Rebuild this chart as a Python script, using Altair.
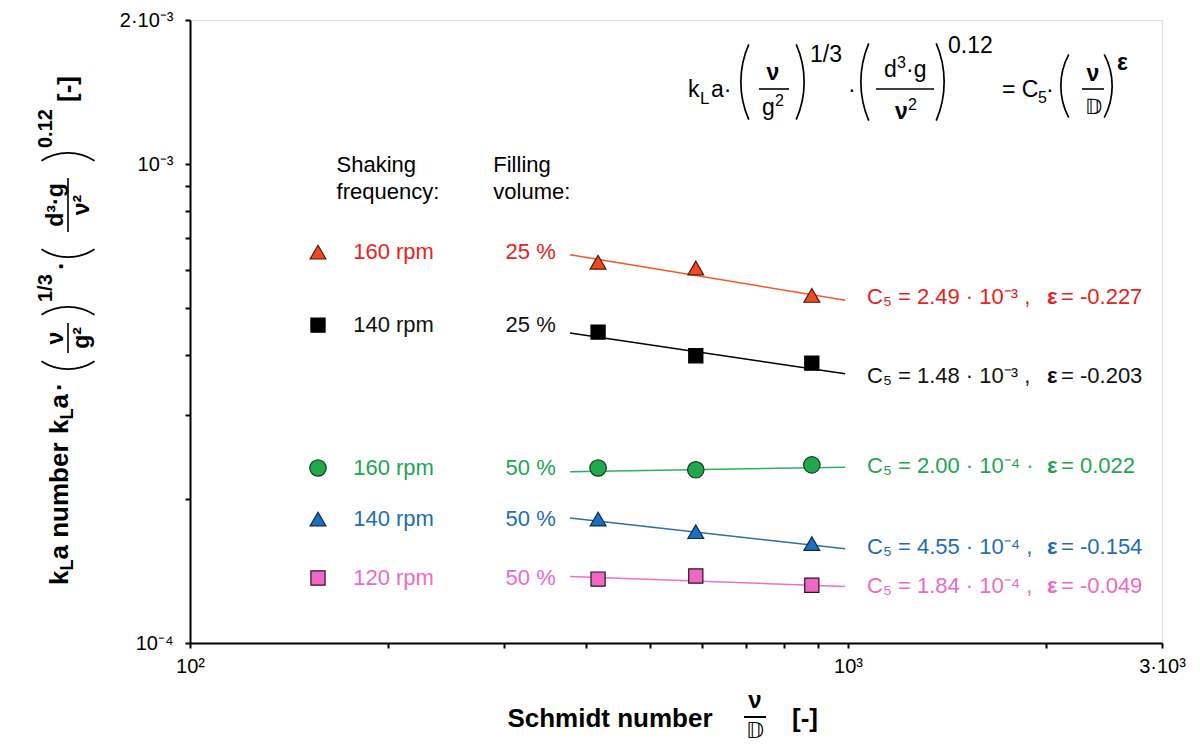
import math
import altair as alt
import pandas as pd

# ------------------------------------------------------------------ data
SERIES = ["160 rpm / 25 %", "140 rpm / 25 %", "160 rpm / 50 %", "140 rpm / 50 %", "120 rpm / 50 %"]
FREQ_LABELS = ["160 rpm", "140 rpm", "160 rpm", "140 rpm", "120 rpm"]
FILL_LABELS = ["25 %", "25 %", "50 %", "50 %", "50 %"]

SCHMIDT = [417, 587, 881]
KLA = [
    [6.24e-4, 6.07e-4, 5.32e-4],    # 160 rpm, 25 %
    [4.46e-4, 3.98e-4, 3.84e-4],    # 140 rpm, 25 %
    [2.32e-4, 2.30e-4, 2.355e-4],   # 160 rpm, 50 %
    [1.815e-4, 1.708e-4, 1.613e-4], # 140 rpm, 50 %
    [1.36e-4, 1.38e-4, 1.32e-4],    # 120 rpm, 50 %
]
FIT_SCHMIDT = [378, 990]
FIT_KLA = [
    [6.47e-4, 5.20e-4],
    [4.44e-4, 3.65e-4],
    [2.279e-4, 2.328e-4],
    [1.824e-4, 1.573e-4],
    [1.376e-4, 1.312e-4],
]
C5_LABELS = ["2.49 · 10⁻³", "1.48 · 10⁻³", "2.00 · 10⁻⁴", "4.55 · 10⁻⁴", "1.84 · 10⁻⁴"]
SEPARATORS = [",", ",", "·", ",", ","]
EPS_LABELS = ["-0.227", "-0.203", "0.022", "-0.154", "-0.049"]

X_TICKS = [100, 200, 300, 400, 500, 600, 700, 800, 900, 1000, 2000, 3000]
X_TICK_LABELS = {100: "10²", 1000: "10³", 3000: "3·10³"}
Y_TICKS = [1e-4, 2e-4, 3e-4, 4e-4, 5e-4, 6e-4, 7e-4, 8e-4, 9e-4, 1e-3, 2e-3]
Y_TICK_LABELS = {1e-4: "10⁻⁴", 1e-3: "10⁻³", 2e-3: "2·10⁻³"}

# ------------------------------------------------------------------ styles / layout
FONT = "Liberation Sans"
SHAPES = ["triangle-up", "square", "circle", "triangle-up", "square"]
MARK_FILL = ["#f04a20", "#000000", "#22a84c", "#1d6fbf", "#f068c6"]
MARK_STROKE = ["#4a1a0c", "#000000", "#0d3b1c", "#0c2c4c", "#2a1020"]
MARK_SIZE = [250, 200, 270, 250, 200]
LINE_COLORS = ["#f05a2a", "#000000", "#2db05e", "#2a6db0", "#ee70c8"]
TEXT_COLORS = ["#e8221c", "#111111", "#22a455", "#1f6db5", "#ec6ac6"]

LEG_Y = [6.55e-4, 4.61e-4, 2.32e-4, 1.815e-4, 1.367e-4]
ANN_Y = [5.27e-4, 3.61e-4, 2.34e-4, 1.583e-4, 1.315e-4]
LEG_MARK_X, LEG_FREQ_X, LEG_FILL_X = 156.5, 177, 359.6
ANN_X, EPS_X, EPSVAL_X = 1069, 2007, 2107
HEAD_X1, HEAD_X2 = 167, 289
HEAD_Y = [9.98e-4, 8.73e-4]

W, H = 972, 623
OX, OY = 190, 20   # page position of plot origin

# ------------------------------------------------------------------ scales / axes
def label_expr(d):
    parts = []
    for v, lab in d.items():
        parts.append("abs(datum.value - %r) < %r ? '%s'" % (v, v * 1e-6, lab))
    return " : ".join(parts) + " : ''"

XS = alt.Scale(type="log", domain=[100, 3000], nice=False)
YS = alt.Scale(type="log", domain=[1e-4, 2e-3], nice=False)
axis_common = dict(title=None, grid=False, tickSize=5, tickWidth=2, tickColor="black",
                   domainColor="black", domainWidth=2, labelFontSize=20, labelColor="black",
                   labelFont=FONT, labelOverlap=False, labelFlush=False)
XA = alt.Axis(values=X_TICKS, labelExpr=label_expr(X_TICK_LABELS), labelPadding=8, **axis_common)
YA = alt.Axis(values=Y_TICKS, labelExpr=label_expr(Y_TICK_LABELS), labelPadding=12, **axis_common)
X = alt.X("x:Q", scale=XS, axis=XA)
Y = alt.Y("y:Q", scale=YS, axis=YA)

# ------------------------------------------------------------------ tables
pts, fits, leg = [], [], []
for i, s in enumerate(SERIES):
    for sc, v in zip(SCHMIDT, KLA[i]):
        pts.append(dict(series=s, x=sc, y=v, shape=SHAPES[i], fill=MARK_FILL[i],
                        stroke=MARK_STROKE[i], size=MARK_SIZE[i]))
    for sc, v in zip(FIT_SCHMIDT, FIT_KLA[i]):
        fits.append(dict(series=s, x=sc, y=v, lc=LINE_COLORS[i]))
    leg.append(dict(series=s, x=LEG_MARK_X, y=LEG_Y[i], shape=SHAPES[i], fill=MARK_FILL[i],
                    stroke=MARK_STROKE[i], size=MARK_SIZE[i]))
pts, fits, leg = pd.DataFrame(pts), pd.DataFrame(fits), pd.DataFrame(leg)

freq_df = pd.DataFrame(dict(x=[LEG_FREQ_X] * 5, y=LEG_Y, t=FREQ_LABELS, c=TEXT_COLORS))
fill_df = pd.DataFrame(dict(x=[LEG_FILL_X] * 5, y=LEG_Y, t=FILL_LABELS, c=TEXT_COLORS))
ann1_df = pd.DataFrame(dict(x=[ANN_X] * 5, y=ANN_Y,
                            t=["C₅ = %s %s" % (c, s) for c, s in zip(C5_LABELS, SEPARATORS)], c=TEXT_COLORS))
ann2_df = pd.DataFrame(dict(x=[EPS_X] * 5, y=ANN_Y, t=["ε"] * 5, c=TEXT_COLORS))
ann3_df = pd.DataFrame(dict(x=[EPSVAL_X] * 5, y=ANN_Y, t=["= " + e for e in EPS_LABELS], c=TEXT_COLORS))
head_df = pd.DataFrame(dict(x=[HEAD_X1, HEAD_X1, HEAD_X2, HEAD_X2], y=HEAD_Y + HEAD_Y,
                            t=["Shaking", "frequency:", "Filling", "volume:"], c=["black"] * 4))

layers = []
layers.append(alt.Chart(fits).mark_line(strokeWidth=1.5).encode(
    x=X, y=Y, color=alt.Color("lc:N", scale=None), detail="series:N"))
for df in (pts, leg):
    layers.append(alt.Chart(df).mark_point(filled=True, opacity=1, strokeWidth=1.2).encode(
        x=X, y=Y,
        shape=alt.Shape("shape:N", scale=None),
        fill=alt.Fill("fill:N", scale=None),
        stroke=alt.Stroke("stroke:N", scale=None),
        size=alt.Size("size:Q", scale=None)))


def text_layer(df, align="left", bold=False, size=22):
    return alt.Chart(df).mark_text(align=align, baseline="middle", fontSize=size, font=FONT,
                                   fontWeight="bold" if bold else "normal").encode(
        x=X, y=Y, text="t:N", color=alt.Color("c:N", scale=None))


layers += [text_layer(head_df), text_layer(freq_df), text_layer(fill_df, align="right"),
           text_layer(ann1_df), text_layer(ann2_df, bold=True), text_layer(ann3_df)]

# ------------------------------------------------------------------ typography helpers (page px)
ONE = pd.DataFrame({"k": [0]})


def txt(s, px, py, size=22, bold=False, align="left", baseline="alphabetic", angle=0):
    kw = dict(text=s, fontSize=size, fontWeight="bold" if bold else "normal", color="black",
              align=align, baseline=baseline, font=FONT)
    if angle:
        kw["angle"] = angle
    return alt.Chart(ONE).mark_text(**kw).encode(x=alt.value(px - OX), y=alt.value(py - OY))


def hbar(x1, x2, py, w=1.6):
    return alt.Chart(ONE).mark_rule(color="black", strokeWidth=w).encode(
        x=alt.value(x1 - OX), x2=alt.value(x2 - OX), y=alt.value(py - OY))


def vbar(px, y1, y2, w=1.6):
    return alt.Chart(ONE).mark_rule(color="black", strokeWidth=w).encode(
        x=alt.value(px - OX), y=alt.value(y1 - OY), y2=alt.value(y2 - OY))


def paren(edge, center, h, opening, vertical=True, b=8, w=1.7):
    R = (h * h / 4 + b * b) / (2 * b)
    half = math.asin(h / 2 / R)
    if vertical:
        if opening:
            cx, cy, mid = edge + R, center, 1.5 * math.pi
        else:
            cx, cy, mid = edge - R, center, 0.5 * math.pi
    else:  # rotated text (reads bottom-to-top)
        if opening:
            cx, cy, mid = center, edge - R, math.pi
        else:
            cx, cy, mid = center, edge + R, 2 * math.pi
    return alt.Chart(ONE).mark_arc(radius=R, radius2=R - w, theta=mid - half, theta2=mid + half,
                                   color="black").encode(x=alt.value(cx - OX), y=alt.value(cy - OY))


# top-right formula
F = 23
S = 16
layers += [
    txt("k", 688, 97, F), txt("L", 700, 104, 17), txt("a·", 711, 97, F),
    paren(740, 82, 76, True), txt("ν", 773, 80, F, bold=True, align="center"),
    hbar(759, 789, 89), txt("g", 762, 115, F), txt("2", 775, 106, S), paren(805, 82, 76, False),
    txt("1/3", 810, 62, F),
    txt("·", 848, 97, F),
    paren(860, 82, 78, True),
    txt("d", 884, 77, F), txt("3", 897, 68, S), txt("·g", 906, 77, F),
    hbar(876, 934, 89),
    txt("ν", 895, 119, F, bold=True), txt("2", 908, 110, S),
    paren(945, 82, 78, False),
    txt("0.12", 948, 53, F),
    txt("= C", 1002, 97, F), txt("5", 1038, 103, S), txt("·", 1046, 97, F),
    paren(1060, 86, 64, True), txt("ν", 1093, 81, F, bold=True, align="center"),
    hbar(1082, 1104, 89), txt("𝔻", 1093, 114, 21, align="center"), paren(1113, 86, 64, False),
    txt("ε", 1117, 70, F, bold=True),
]

# x axis title
layers += [
    txt("Schmidt number", 610, 719, 26, bold=True, align="center", baseline="middle"),
    txt("ν", 755, 708, 24, bold=True, align="center"),
    hbar(744, 766, 717, 2),
    txt("𝔻", 755, 738, 22, align="center"),
    txt("[-]", 805, 719, 26, bold=True, align="center", baseline="middle"),
]

# y axis title (rotated, reads bottom to top)
R270 = 270
layers += [
    txt("k", 60, 585, 26, bold=True, baseline="middle", angle=R270),
    txt("L", 68, 570.5, 18, bold=True, baseline="middle", angle=R270),
    txt("a number", 60, 559.5, 26, bold=True, baseline="middle", angle=R270),
    txt("k", 60, 434, 26, bold=True, baseline="middle", angle=R270),
    txt("L", 68, 419.5, 18, bold=True, baseline="middle", angle=R270),
    txt("a", 60, 408.5, 26, bold=True, baseline="middle", angle=R270),
    txt("·", 60, 391, 26, bold=True, baseline="middle", angle=R270),
    paren(370, 68, 54, True, vertical=False),
    txt("ν", 56, 338, 23, bold=True, align="center", baseline="middle", angle=R270),
    vbar(68, 353, 323),
    txt("g²", 82, 338, 23, bold=True, align="center", baseline="middle", angle=R270),
    paren(306, 68, 54, False, vertical=False),
    txt("1/3", 46, 302, 20, bold=True, baseline="middle", angle=R270),
    txt("·", 62, 270, 26, bold=True, baseline="middle", angle=R270),
    paren(258, 68, 54, True, vertical=False),
    txt("d³·g", 56, 205, 23, bold=True, align="center", baseline="middle", angle=R270),
    vbar(68, 232, 178),
    txt("ν²", 82, 205, 23, bold=True, align="center", baseline="middle", angle=R270),
    paren(152, 68, 54, False, vertical=False),
    txt("0.12", 46, 148, 20, bold=True, baseline="middle", angle=R270),
    txt("[-]", 68, 102, 26, bold=True, baseline="middle", angle=R270),
]

chart = alt.layer(*layers).properties(
    width=W, height=H,
    padding={"left": OX - 8, "top": OY - 8, "right": 28, "bottom": 100},
    autosize=alt.AutoSizeParams(type="none"),
).configure_view(stroke="black", strokeWidth=2).configure(font=FONT)

chart.save("out.html", embed_options={"renderer": "svg", "actions": False})
